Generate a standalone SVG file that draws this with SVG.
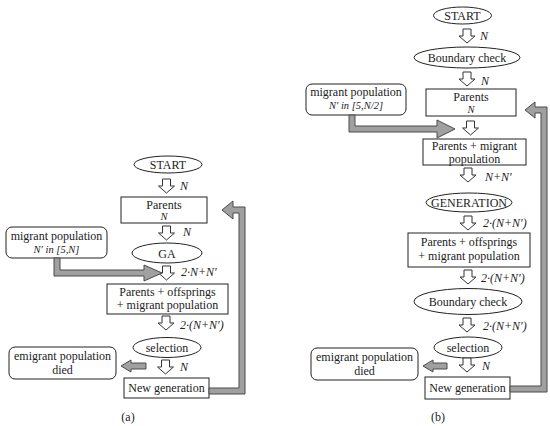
<svg xmlns="http://www.w3.org/2000/svg" xmlns:xlink="http://www.w3.org/1999/xlink" width="550" height="426" viewBox="0 0 550 426">
<defs>
<style>
.bx{fill:#fff;stroke:#222;stroke-width:1}
.el{fill:#fff;stroke:#222;stroke-width:1}
.t{font-family:"Liberation Serif","Times New Roman",serif;font-size:12px;fill:#222;text-anchor:middle}
.l{font-family:"Liberation Serif","Times New Roman",serif;font-size:12px;font-style:italic;fill:#222}
.s{font-family:"Liberation Serif","Times New Roman",serif;font-size:10.5px;font-style:italic;fill:#222;text-anchor:middle}
.ga{fill:#a0a0a0;stroke:#4a4a4a;stroke-width:1;stroke-linejoin:miter}
.wa{fill:#fff;stroke:#333;stroke-width:1}
</style>
<path id="down" d="M-4,0 H4 V7 H8 L0,14 L-8,7 H-4 Z"/>
</defs>
<rect width="550" height="426" fill="#fff"/>

<!-- Panel (a) nodes -->
<g id="a-start"><ellipse class="el" cx="168" cy="164.5" rx="34" ry="8.5"/><text class="t" x="168" y="169">START</text></g>
<g id="a-parents"><rect class="bx" x="121" y="197" width="86" height="26"/><text class="t" x="164" y="208.5">Parents</text><text class="s" x="164" y="220">N</text></g>
<g id="a-ga"><ellipse class="el" cx="167" cy="253" rx="35" ry="10"/><text class="t" x="167" y="257.5">GA</text></g>
<g id="a-migrant"><rect class="bx" x="6" y="227" width="101" height="31" rx="6"/><text class="t" x="56.5" y="239.5">migrant population</text><text class="s" x="56.5" y="252.5">N′ in [5,N]</text></g>
<g id="a-pom"><rect class="bx" x="107" y="284" width="121" height="30"/><text class="t" x="167.5" y="295.5">Parents + offsprings</text><text class="t" x="167.5" y="309">+ migrant population</text></g>
<g id="a-selection"><ellipse class="el" cx="167" cy="347.5" rx="34" ry="10"/><text class="t" x="167" y="351.5">selection</text></g>
<g id="a-emigrant"><rect class="bx" x="9" y="347" width="107" height="32" rx="6"/><text class="t" x="62.5" y="359.5">emigrant population</text><text class="t" x="62.5" y="373.5">died</text></g>
<g id="a-newgen"><rect class="bx" x="124" y="378" width="85" height="20"/><text class="t" x="166.5" y="392">New generation</text></g>
<text class="t" x="128" y="421">(a)</text>

<!-- Panel (b) nodes -->
<g id="b-start"><ellipse class="el" cx="462.5" cy="15.5" rx="29" ry="8.5"/><text class="t" x="462.5" y="20">START</text></g>
<g id="b-boundary1"><ellipse class="el" cx="467" cy="57.5" rx="53" ry="10.5"/><text class="t" x="467" y="62">Boundary check</text></g>
<g id="b-parents"><rect class="bx" x="426" y="89" width="90" height="27"/><text class="t" x="471" y="100.5">Parents</text><text class="s" x="471" y="112.5">N</text></g>
<g id="b-migrant"><rect class="bx" x="306" y="84" width="100" height="31" rx="6"/><text class="t" x="356" y="96">migrant population</text><text class="s" x="356" y="109">N′ in [5,N/2]</text></g>
<g id="b-pm"><rect class="bx" x="423" y="139" width="103" height="26"/><text class="t" x="474.5" y="150">Parents + migrant</text><text class="t" x="474.5" y="162.5">population</text></g>
<g id="b-generation"><ellipse class="el" cx="469" cy="202.5" rx="43" ry="9.5"/><text class="t" x="469" y="207">GENERATION</text></g>
<g id="b-pom"><rect class="bx" x="408" y="233" width="122" height="34"/><text class="t" x="469" y="246">Parents + offsprings</text><text class="t" x="469" y="260">+ migrant population</text></g>
<g id="b-boundary2"><ellipse class="el" cx="468" cy="301.5" rx="54" ry="13"/><text class="t" x="468" y="306">Boundary check</text></g>
<g id="b-selection"><ellipse class="el" cx="468" cy="347.5" rx="34" ry="10.5"/><text class="t" x="468" y="351.5">selection</text></g>
<g id="b-emigrant"><rect class="bx" x="311" y="348" width="107" height="32" rx="6"/><text class="t" x="364.5" y="360.5">emigrant population</text><text class="t" x="364.5" y="374.5">died</text></g>
<g id="b-newgen"><rect class="bx" x="425" y="377" width="85" height="22"/><text class="t" x="467.5" y="392">New generation</text></g>
<text class="t" x="438" y="421">(b)</text>

<!-- Connectors -->
<g id="connectors">
<!-- (a) white flow arrows -->
<use xlink:href="#down" href="#down" class="wa" x="166.5" y="179"/>
<use xlink:href="#down" href="#down" class="wa" x="166.5" y="226"/>
<use xlink:href="#down" href="#down" class="wa" x="166.5" y="266"/>
<use xlink:href="#down" href="#down" class="wa" x="166" y="316"/>
<use xlink:href="#down" href="#down" class="wa" x="165.5" y="360"/>
<text class="l" x="180" y="190">N</text>
<text class="l" x="183" y="236">N</text>
<text class="l" x="181" y="276">2·N+N′</text>
<text class="l" x="180" y="329">2·(N+N′)</text>
<text class="l" x="180" y="371">N</text>
<!-- (a) gray arrows -->
<polygon class="ga" points="54,258 60,258 60,270 144,270 144,265 162,273 144,281 144,276 54,276"/>
<polygon class="ga" points="146,363 131,363 131,360 121,366 131,372 131,369 146,369"/>
<polygon class="ga" points="209,388 239,388 239,213 233,213 233,219 222,210 233,201 233,207 245,207 245,394 209,394"/>

<!-- (b) white flow arrows -->
<use xlink:href="#down" href="#down" class="wa" x="467" y="29"/>
<use xlink:href="#down" href="#down" class="wa" x="467" y="72"/>
<use xlink:href="#down" href="#down" class="wa" x="470.5" y="121"/>
<use xlink:href="#down" href="#down" class="wa" x="468" y="168"/>
<use xlink:href="#down" href="#down" class="wa" x="468" y="216"/>
<use xlink:href="#down" href="#down" class="wa" x="468" y="270"/>
<use xlink:href="#down" href="#down" class="wa" x="467" y="318"/>
<use xlink:href="#down" href="#down" class="wa" x="467" y="358"/>
<text class="l" x="480" y="40">N</text>
<text class="l" x="481" y="85">N</text>
<text class="l" x="485" y="181">N+N′</text>
<text class="l" x="483" y="227">2·(N+N′)</text>
<text class="l" x="481" y="282">2·(N+N′)</text>
<text class="l" x="483" y="330">2·(N+N′)</text>
<text class="l" x="482" y="370">N</text>
<!-- (b) gray arrows -->
<polygon class="ga" points="349,115 355,115 355,126 437,126 437,120 455,129 437,138 437,132 349,132"/>
<polygon class="ga" points="447,363 433,363 433,360 423,366 433,372 433,369 447,369"/>
<polygon class="ga" points="510,386 541,386 541,113 535,113 535,118 525,110 535,102 535,107 547,107 547,392 510,392"/>
</g>
</svg>
